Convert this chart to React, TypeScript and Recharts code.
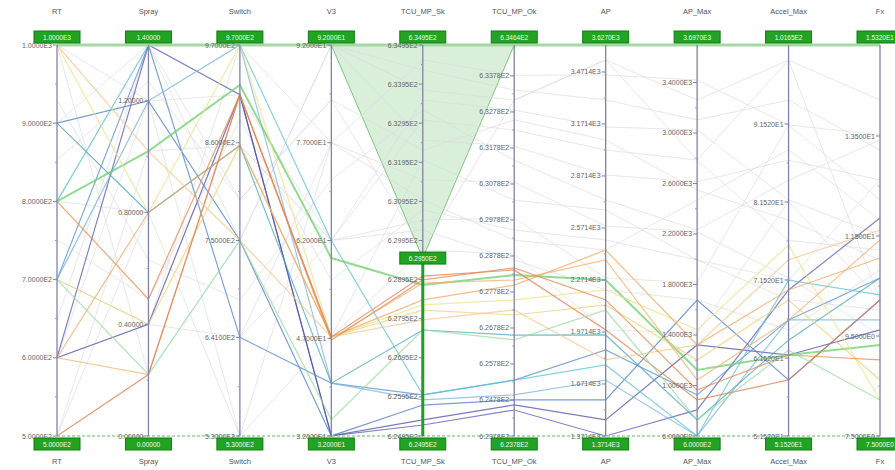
import { ComposedChart, Line, Area, XAxis, YAxis, ReferenceLine } from 'recharts'

const dims = ['RT', 'Spray', 'Switch', 'V3', 'TCU_MP_Sk', 'TCU_MP_Ok', 'AP', 'AP_Max', 'Accel_Max', 'Fx']
const axisMin = [500, 0, 530, 32, 624.95, 623.78, 1371.4, 600, 51.52, 7.5]
const axisMax = [1000, 1.4, 970, 92, 634.95, 634.64, 3627, 3697, 101.65, 15.32]
const axisTicks = [
	[500, 600, 700, 800, 900, 1000],
	[0, 0.4, 0.8, 1.2],
	[530, 641, 750, 860, 970],
	[32, 47, 62, 77, 92],
	[624.95, 625.95, 626.95, 627.95, 628.95, 629.95, 630.95, 631.95, 632.95, 633.95, 634.95],
	[623.78, 624.78, 625.78, 626.78, 627.78, 628.78, 629.78, 630.78, 631.78, 632.78, 633.78],
	[1371.4, 1671.4, 1971.4, 2271.4, 2571.4, 2871.4, 3171.4, 3471.4],
	[600, 1000, 1400, 1800, 2200, 2600, 3000, 3400],
	[51.52, 61.52, 71.52, 81.52, 91.52],
	[7.5, 9.5, 11.5, 13.5],
]

// rows that pass the brush on TCU_MP_Sk
const selected = [
	[600, 1.4, 914, 32, 625.23, 624.5, 1371, 806, 70.24, 11.86],
	[600, 0.4, 914, 32, 625.36, 624.64, 1464, 1321, 61.9, 9.62],
	[900, 1.2, 750, 32, 625.74, 624.78, 1579, 1677, 58.7, 10.22],
	[700, 1.4, 641, 40.1, 626.0, 625.33, 1868, 925, 66.4, 10.66],
	[700, 1.2, 970, 40.1, 625.87, 624.92, 1694, 600, 66.4, 9.82],
	[800, 1.4, 970, 62, 626.0, 625.33, 1781, 600, 71.5, 10.32],
	[900, 0.8, 857, 40.1, 627.66, 626.58, 1954, 727, 63.8, 10.66],
	[800, 1.02, 925, 59.3, 628.81, 628.25, 2271, 1123, 61.9, 9.32],
	[1000, 0.8, 970, 47.2, 628.3, 627.56, 2214, 1440, 76.0, 8.22],
	[700, 0.4, 857, 47.2, 628.17, 627.14, 2127, 1202, 68.96, 8.62],
	[600, 0.8, 857, 47.2, 628.43, 627.97, 2444, 1321, 70.24, 11.06],
	[600, 0.22, 914, 47, 628.86, 628.11, 2387, 1044, 66.4, 11.42],
	[500, 0.22, 914, 47.2, 629.04, 628.39, 1983, 885, 58.7, 10.22],
	[1000, 1.02, 750, 47.2, 627.92, 627.28, 1810, 1321, 74.1, 11.62],
	[800, 0.49, 914, 46.7, 628.94, 628.45, 2156, 964, 61.9, 9.02],
	[700, 0.22, 750, 34.5, 627.66, 626.45, 2098, 727, 62.5, 8.22],
]
const selectedColors = [
	'#5a5ab4', '#4c4ca8', '#4a7cc8', '#5a8fd0', '#7ab4e0', '#5cc4d0', '#4aa8b8', '#6cd06c',
	'#f0e08a', '#ecd27a', '#f2a860', '#f0b070', '#e07a50', '#f6c690', '#e8884a', '#98dca0',
]

// rows filtered out by the brush
const others = [
	[1000, 1.2, 970, 77, 634.57, 633.8, 3454, 3420, 91.4, 13.52],
	[900, 0.8, 857, 62, 633.54, 632.83, 3154, 3024, 81.8, 11.52],
	[800, 1.4, 750, 92, 632.52, 631.83, 2877, 2612, 86.9, 12.62],
	[700, 0.4, 641, 77, 631.5, 630.83, 2583, 2216, 71.8, 9.52],
	[600, 1.2, 914, 62, 630.47, 629.83, 2283, 1812, 91.4, 12.22],
	[500, 0.8, 530, 47.2, 629.71, 628.83, 1983, 1416, 81.6, 10.22],
	[1000, 0.22, 750, 92, 634.31, 633.39, 3310, 3103, 94.6, 13.22],
	[900, 1.4, 641, 62, 633.03, 632.28, 3021, 2786, 76.6, 11.22],
	[800, 0.8, 857, 47.2, 632.01, 630.33, 2675, 1994, 71.5, 12.62],
	[700, 1.2, 530, 77, 630.99, 629.22, 2444, 2469, 88.2, 11.82],
	[600, 0.4, 970, 92, 633.8, 633.11, 3541, 3261, 99.7, 14.22],
	[500, 1.02, 857, 62, 630.22, 628.67, 2214, 1677, 65.1, 10.82],
	[930, 0.63, 683, 71.3, 633.29, 631.44, 2733, 2232, 84.3, 13.42],
	[853, 1.27, 796, 83.6, 632.26, 632.56, 3079, 2548, 79.2, 11.02],
	[751, 0.49, 886, 55.9, 630.73, 629.5, 2502, 1994, 69.0, 10.02],
	[648, 1.4, 796, 83.6, 629.71, 633.11, 3541, 2786, 99.7, 10.22],
]

const brushDim = 4
const brushLow = 629.5

const norm = (i: number, v: number) => (v - axisMin[i]) / (axisMax[i] - axisMin[i])
const fmt = (i: number, v: number) =>
	i === 1 ? v.toFixed(5) : v.toExponential(4).toUpperCase().replace('+', '')

const data = dims.map((dim, i) => {
	const row: any = { dim }
	selected.forEach((r, k) => (row['s' + k] = norm(i, r[i])))
	others.forEach((r, k) => (row['o' + k] = norm(i, r[i])))
	if (i === brushDim - 1 || i === brushDim + 1) row.brush = [1, 1]
	if (i === brushDim) row.brush = [norm(i, brushLow), 1]
	return row
})

const font = 'Liberation Sans, Arial, sans-serif'

const GreenBox = ({ x, y, text }: { x: number; y: number; text: string }) => (
	<g>
		<rect x={x - 23} y={y} width={46} height={12} fill='#23a323' stroke='#0f7f0f' strokeWidth={1} />
		<text x={x} y={y + 8.5} textAnchor='middle' fontSize={6.5} fill='#e6ffe6' fontFamily={font}>
			{text}
		</text>
	</g>
)

const AxisDecor = (props: any) => {
	const { x1, y1, y2, i } = props
	const top = Math.min(y1, y2)
	const bottom = Math.max(y1, y2)
	const h = bottom - top
	const ticks = axisTicks[i]
	const minors: number[] = []
	for (let k = 0; k < ticks.length - 1; k++) minors.push((ticks[k] + ticks[k + 1]) / 2)
	return (
		<g>
			<line x1={x1} x2={x1} y1={top} y2={bottom} stroke='#8282a8' strokeWidth={1.3} />
			{minors.map((t) => {
				const y = bottom - norm(i, t) * h
				return <line key={'m' + t} x1={x1 - 2} x2={x1} y1={y} y2={y} stroke='#9a9ab6' />
			})}
			{ticks.map((t) => {
				const y = bottom - norm(i, t) * h
				return (
					<g key={t}>
						<line x1={x1 - 4} x2={x1} y1={y} y2={y} stroke='#8282a8' />
						<text x={x1 - 5} y={y + 2.5} textAnchor='end' fontSize={7} fill='#666' fontFamily={font}>
							{fmt(i, t)}
						</text>
					</g>
				)
			})}
			<text x={x1} y={14} textAnchor='middle' fontSize={7.5} fill='#555' fontFamily={font}>
				{dims[i]}
			</text>
			<GreenBox x={x1} y={top - 14} text={fmt(i, axisMax[i])} />
			<GreenBox x={x1} y={bottom + 2} text={fmt(i, axisMin[i])} />
			<text x={x1} y={bottom + 28} textAnchor='middle' fontSize={7.5} fill='#555' fontFamily={font}>
				{dims[i]}
			</text>
		</g>
	)
}

const BrushHandle = (props: any) => {
	const { x1, y1, y2 } = props
	const top = Math.min(y1, y2)
	const bottom = Math.max(y1, y2)
	return (
		<g>
			<line x1={x1} x2={x1} y1={top} y2={bottom} stroke='#1f9f1f' strokeWidth={3} />
			<GreenBox x={x1} y={top - 6} text={fmt(brushDim, brushLow)} />
		</g>
	)
}

const App = () => {
	return (
		<div style={{ position: 'absolute', left: 0, top: 0, width: 895, height: 470, background: '#fff' }}>
			<ComposedChart width={895} height={470} data={data} margin={{ top: 45, right: 15, bottom: 34, left: 57 }}>
				<XAxis dataKey='dim' hide />
				<YAxis type='number' domain={[0, 1]} hide />
				{others.map((_, k) => (
					<Line
						key={'o' + k}
						dataKey={'o' + k}
						type='linear'
						stroke='#dadae2'
						strokeOpacity={0.65}
						strokeWidth={1}
						dot={false}
						isAnimationActive={false}
					/>
				))}
				<Area
					dataKey='brush'
					type='linear'
					fill='#bfe5bf'
					fillOpacity={0.6}
					stroke='#80c480'
					strokeWidth={1}
					connectNulls={false}
					isAnimationActive={false}
				/>
				{selected.map((_, k) => (
					<Line
						key={'s' + k}
						dataKey={'s' + k}
						type='linear'
						stroke={selectedColors[k]}
						strokeOpacity={0.75}
						strokeWidth={k === 7 ? 2 : 1.2}
						dot={false}
						isAnimationActive={false}
					/>
				))}
				<ReferenceLine y={1} stroke='#a6d8a6' strokeWidth={3} />
				<ReferenceLine y={0} stroke='#96d296' strokeWidth={1.5} strokeDasharray='3 2' />
				{dims.map((dim, i) => (
					<ReferenceLine key={dim} x={dim} shape={(p: any) => <AxisDecor {...p} i={i} />} />
				))}
				<ReferenceLine
					segment={[
						{ x: dims[brushDim], y: 0 },
						{ x: dims[brushDim], y: norm(brushDim, brushLow) },
					]}
					shape={(p: any) => <BrushHandle {...p} />}
				/>
			</ComposedChart>
		</div>
	)
}

export default App
